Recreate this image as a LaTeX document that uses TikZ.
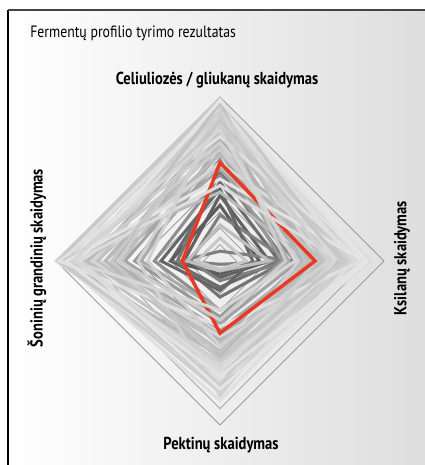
\documentclass[tikz,border=0pt]{standalone}
\usepackage{fontspec}
\setmainfont{PT Sans}[FakeStretch=0.84]
\usetikzlibrary{positioning}

\definecolor{frameline}{HTML}{444444}
\definecolor{gridgray}{HTML}{9A9A9A}
\definecolor{redline}{HTML}{E63A24}

\tikzset{
  axislabel/.style={font=\bfseries\fontsize{13}{15}\selectfont, inner sep=0pt},
  gridline/.style={gridgray, line width=0.55pt},
  series/.style={line width=2.3pt, line join=miter},
}

\begin{document}
\begin{tikzpicture}[x=0.75pt,y=0.75pt]
\useasboundingbox (0,0) rectangle (425,465);
% background and frame
\shade[left color=white, right color=black!13] (8,0) rectangle (425,455);
\draw[black, line width=1.5pt] (8,0) -- (8,455);
\draw[frameline, line width=1.5pt] (8,455) -- (425,455);

\node[anchor=west, inner sep=0pt, font=\fontsize{12.3}{14}\selectfont] (title) at (30,432)
  {Fermentų profilio tyrimo rezultatas};

\coordinate (c) at (220,204);
\node[axislabel] (top) at (217,385) {Celiuliozės / gliukanų skaidymas};
\node[axislabel] (bottom) at (221,20) {Pektinų skaidymas};
\node[axislabel, rotate=90] (left) at (37,207) {Šoninių grandinių skaidymas};
\node[axislabel, rotate=90] (right) at (402,207) {Ksilanų skaidymas};

\begin{scope}[shift={(c)}]
% grid
\foreach \k in {1,...,10}
  \draw[gridline] (0,\k*16.4) -- (\k*16.4,0) -- (0,-\k*16.4) -- (-\k*16.4,0) -- cycle;
% dark profiles
\foreach \t/\r/\b/\l/\g in {
  0.40/0.30/0.10/0.22/62, 0.48/0.36/0.16/0.30/58, 0.34/0.24/0.08/0.30/64,
  0.55/0.40/0.22/0.26/55, 0.28/0.42/0.12/0.18/50, 0.44/0.20/0.18/0.36/60,
  0.06/0.45/0.02/0.24/50, 0.22/0.30/0.06/0.20/26, 0.14/0.16/0.05/0.14/22,
  0.52/0.46/0.30/0.40/44, 0.62/0.38/0.34/0.52/40}
  \draw[series, black!\g] (0,\t*164) -- (\r*164,0) -- (0,-\b*164) -- (-\l*164,0) -- cycle;
% light profiles below the reference
\foreach \t/\r/\b/\l/\g in {
  0.66/0.48/0.38/0.58/36, 0.56/0.55/0.42/0.66/34, 0.72/0.42/0.30/0.48/33,
  0.75/0.60/0.50/0.65/30, 0.80/0.55/0.45/0.70/28, 0.70/0.65/0.55/0.75/27,
  0.85/0.50/0.48/0.80/30, 0.78/0.70/0.52/0.60/25, 0.88/0.62/0.58/0.85/23,
  0.65/0.72/0.60/0.70/27, 0.92/0.75/0.62/0.90/20, 0.95/0.80/0.70/0.95/17,
  0.90/0.85/0.65/0.88/19, 0.97/0.70/0.75/0.98/15, 0.85/0.90/0.68/0.92/13,
  0.93/0.78/0.80/0.96/19, 0.96/0.88/0.72/1.00/11, 0.82/0.65/0.78/0.90/22,
  0.98/0.60/0.66/0.94/17, 0.88/0.92/0.74/0.85/14, 0.94/0.82/0.85/0.97/12,
  0.99/0.76/0.70/0.99/21, 0.58/0.62/0.50/0.82/25, 0.72/0.48/0.62/0.92/19,
  0.42/0.55/0.58/0.96/27, 0.60/0.84/0.46/0.78/16, 0.84/0.68/0.82/0.50/18,
  0.96/0.52/0.56/0.74/24, 0.76/0.86/0.40/0.98/12, 0.68/0.58/0.76/0.86/20,
  0.50/0.88/0.70/0.94/11, 0.98/0.90/0.78/0.86/10}
  \draw[series, black!\g] (0,\t*164) -- (\r*164,0) -- (0,-\b*164) -- (-\l*164,0) -- cycle;
% reference profile
\draw[series, redline, line width=2.6pt] (0,0.60*164) -- (0.58*164,0) -- (0,-0.44*164) -- (-0.23*164,0) -- cycle;
% light profiles above the reference
\foreach \t/\r/\b/\l/\g in {
  0.90/0.40/0.36/0.62/20, 0.46/0.74/0.66/0.88/14, 0.92/0.66/0.52/0.44/18,
  0.86/0.74/0.60/0.66/22, 0.80/0.46/0.30/0.90/16}
  \draw[series, black!\g] (0,\t*164) -- (\r*164,0) -- (0,-\b*164) -- (-\l*164,0) -- cycle;
\end{scope}
\end{tikzpicture}
\end{document}
